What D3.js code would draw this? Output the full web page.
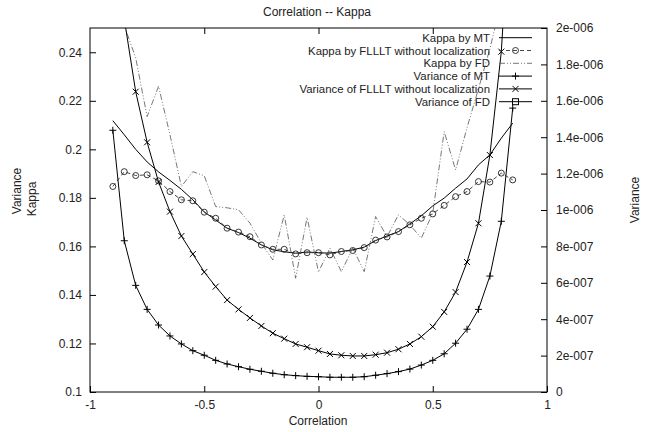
<!DOCTYPE html>
<html>
<head>
<meta charset="utf-8">
<script src="https://cdn.jsdelivr.net/npm/d3@7"></script>
<style>
  html, body { margin: 0; padding: 0; background: #fff; }
  svg { display: block; font-family: "Liberation Sans", Arial, Helvetica, sans-serif; }
</style>
</head>
<body>
<svg id="chart" width="649" height="432"></svg>
<script>
// ---- data ----
const correlation = [-0.9,-0.85,-0.8,-0.75,-0.7,-0.65,-0.6,-0.55,-0.5,-0.45,-0.4,-0.35,-0.3,-0.25,-0.2,-0.15,-0.1,-0.05,0,
  0.05,0.1,0.15,0.2,0.25,0.3,0.35,0.4,0.45,0.5,0.55,0.6,0.65,0.7,0.75,0.8,0.85];

const kappaMT = [0.2118,0.2060,0.2000,0.1948,0.1907,0.1872,0.1835,0.1792,0.1742,0.1709,0.1675,0.1657,0.1634,0.1606,0.1586,0.1578,0.1572,0.1577,0.1574,
  0.1572,0.1579,0.1586,0.1597,0.1624,0.1643,0.1661,0.1693,0.1726,0.1767,0.1799,0.1840,0.1878,0.1936,0.1977,0.2046,0.2108];

const kappaFLLLT = [0.1847,0.1908,0.1892,0.1895,0.1870,0.1826,0.1792,0.1788,0.1741,0.1716,0.1675,0.1659,0.1640,0.1606,0.1588,0.1588,0.1569,0.1574,0.1574,
  0.1565,0.1579,0.1583,0.1595,0.1626,0.1639,0.1661,0.1689,0.1716,0.1734,0.1769,0.1805,0.1826,0.1867,0.1865,0.1902,0.1874];

const kappaFD = [0.270,0.251,0.2377,0.2135,0.2260,0.2060,0.1847,0.1908,0.1891,0.1764,0.1759,0.1751,0.1696,0.1613,0.1544,0.1730,0.1469,0.1720,0.1494,
  0.1593,0.1496,0.1593,0.1496,0.1723,0.1640,0.1730,0.1689,0.1634,0.1737,0.2073,0.1915,0.2089,0.2249,0.2414,0.261,0.275];

const varMT = [1.438e-6,0.831e-6,0.586e-6,0.454e-6,0.368e-6,0.308e-6,0.264e-6,0.227e-6,0.202e-6,0.174e-6,0.154e-6,0.139e-6,0.125e-6,0.114e-6,0.103e-6,0.095e-6,0.090e-6,0.086e-6,0.084e-6,
  0.081e-6,0.081e-6,0.081e-6,0.084e-6,0.092e-6,0.101e-6,0.112e-6,0.126e-6,0.148e-6,0.174e-6,0.210e-6,0.268e-6,0.345e-6,0.454e-6,0.637e-6,0.938e-6,1.56e-6];

const varFLLLT = [2.9e-6,2.05e-6,1.650e-6,1.372e-6,1.154e-6,0.991e-6,0.857e-6,0.758e-6,0.659e-6,0.579e-6,0.505e-6,0.454e-6,0.407e-6,0.363e-6,0.323e-6,0.293e-6,0.264e-6,0.246e-6,0.227e-6,
  0.209e-6,0.202e-6,0.198e-6,0.198e-6,0.205e-6,0.216e-6,0.235e-6,0.264e-6,0.304e-6,0.359e-6,0.440e-6,0.549e-6,0.714e-6,0.927e-6,1.302e-6,1.87e-6,2.9e-6];

// Variance of FD: no point of this series is visible inside the plotted range
const varFD = [];

const xTicks = [-1,-0.5,0,0.5,1];
const xTickLabels = ["-1","-0.5","0","0.5","1"];
const yLeftTicks = [0.1,0.12,0.14,0.16,0.18,0.2,0.22,0.24];
const yLeftTickLabels = ["0.1","0.12","0.14","0.16","0.18","0.2","0.22","0.24"];
const yRightTicks = [0,2e-7,4e-7,6e-7,8e-7,1e-6,1.2e-6,1.4e-6,1.6e-6,1.8e-6,2e-6];
const yRightTickLabels = ["0","2e-007","4e-007","6e-007","8e-007","1e-006","1.2e-006","1.4e-006","1.6e-006","1.8e-006","2e-006"];

const legendLabels = ["Kappa by MT","Kappa by FLLLT without localization","Kappa by FD",
  "Variance of MT","Variance of FLLLT without localization","Variance of FD"];

// ---- layout ----
const L = 90, R = 547, T = 28, B = 392;
const svg = d3.select("#chart");
const x = d3.scaleLinear().domain([-1,1]).range([L,R]);
const yL = d3.scaleLinear().domain([0.1,0.25]).range([B,T]);
const yR = d3.scaleLinear().domain([0,2e-6]).range([B,T]);

svg.append("defs").append("clipPath").attr("id","plotclip")
  .append("rect").attr("x",L).attr("y",T).attr("width",R-L).attr("height",B-T);

const fs = 12;
const legendFs = 11.4;
const txtColor = "#222";

// axes
function styleAxis(g){
  g.select(".domain").remove();
  g.selectAll(".tick line").attr("stroke","#000").attr("stroke-width",1);
  g.selectAll(".tick text").attr("fill",txtColor).attr("font-size",fs).attr("font-family","Liberation Sans, Arial, sans-serif");
}
svg.append("g").attr("transform",`translate(0,${B})`)
  .call(d3.axisBottom(x).tickValues(xTicks).tickSize(-6).tickPadding(8)
    .tickFormat((d,i)=>xTickLabels[i]))
  .call(styleAxis);
svg.append("g").attr("transform",`translate(0,${T})`)
  .call(d3.axisTop(x).tickValues(xTicks.slice(1,-1)).tickSize(-6).tickFormat(""))
  .call(styleAxis);
svg.append("g").attr("transform",`translate(${L},0)`)
  .call(d3.axisLeft(yL).tickValues(yLeftTicks).tickSize(-6).tickPadding(8)
    .tickFormat((d,i)=>yLeftTickLabels[i]))
  .call(styleAxis);
svg.append("g").attr("transform",`translate(${R},0)`)
  .call(d3.axisRight(yR).tickValues(yRightTicks).tickSize(-6).tickPadding(9)
    .tickFormat((d,i)=>yRightTickLabels[i]))
  .call(styleAxis);

// border
svg.append("rect").attr("x",L).attr("y",T).attr("width",R-L).attr("height",B-T)
  .attr("fill","none").attr("stroke","#000").attr("stroke-width",1);

// titles
svg.append("text").attr("x",317).attr("y",12).attr("text-anchor","middle")
  .attr("dominant-baseline","central").attr("font-size",fs).attr("fill",txtColor).text("Correlation -- Kappa");
svg.append("text").attr("x",318).attr("y",421).attr("text-anchor","middle")
  .attr("dominant-baseline","central").attr("font-size",fs).attr("fill",txtColor).text("Correlation");
svg.append("text").attr("transform","translate(17,191) rotate(-90)").attr("text-anchor","middle")
  .attr("dominant-baseline","central").attr("font-size",fs).attr("fill",txtColor).text("Variance");
svg.append("text").attr("transform","translate(32,199) rotate(-90)").attr("text-anchor","middle")
  .attr("dominant-baseline","central").attr("font-size",fs).attr("fill",txtColor).text("Kappa");
svg.append("text").attr("transform","translate(635,200) rotate(-90)").attr("text-anchor","middle")
  .attr("dominant-baseline","central").attr("font-size",fs).attr("fill",txtColor).text("Variance");

// markers
const plusPath = "M-3.5,0H3.5M0,-3.5V3.5";
const crossPath = "M-3,-3L3,3M-3,3L3,-3";
function drawMarker(g, type, cx, cy){
  if (type === "plus") g.append("path").attr("d",plusPath).attr("transform",`translate(${cx},${cy})`).attr("stroke","#000").attr("fill","none").attr("stroke-width",1);
  else if (type === "cross") g.append("path").attr("d",crossPath).attr("transform",`translate(${cx},${cy})`).attr("stroke","#000").attr("fill","none").attr("stroke-width",1);
  else if (type === "circle") g.append("circle").attr("cx",cx).attr("cy",cy).attr("r",3).attr("stroke","#222").attr("fill","none").attr("stroke-width",0.9);
  else if (type === "square") g.append("rect").attr("x",cx-3).attr("y",cy-3).attr("width",6).attr("height",6).attr("stroke","#000").attr("fill","none").attr("stroke-width",1);
}

const series = [
  {vals: kappaMT,   scale: yL, stroke:"#000", width:1,   dash:null,            marker:null},
  {vals: kappaFLLLT,scale: yL, stroke:"#333", width:0.9, dash:"4,3",           marker:"circle"},
  {vals: kappaFD,   scale: yL, stroke:"#555", width:0.8, dash:"6,2,1,2,1,2",   marker:null},
  {vals: varMT,     scale: yR, stroke:"#000", width:1,   dash:null,            marker:"plus"},
  {vals: varFLLLT,  scale: yR, stroke:"#000", width:1,   dash:null,            marker:"cross"},
  {vals: varFD,     scale: yR, stroke:"#000", width:1,   dash:null,            marker:"square"}
];

const plot = svg.append("g").attr("clip-path","url(#plotclip)");
series.forEach(s => {
  const pts = s.vals.map((v,i)=>[correlation[i], v]);
  if (pts.length === 0) return;
  const line = d3.line().x(d=>x(d[0])).y(d=>s.scale(d[1]));
  plot.append("path").datum(pts).attr("d",line).attr("fill","none")
    .attr("stroke",s.stroke).attr("stroke-width",s.width)
    .attr("stroke-dasharray",s.dash);
  if (s.marker) {
    const [lo,hi] = s.scale.domain();
    pts.forEach(p => { if (p[1] >= lo && p[1] <= hi) drawMarker(plot, s.marker, x(p[0]), s.scale(p[1])); });
  }
});

// legend
const lg = svg.append("g");
legendLabels.forEach((lab,i) => {
  const yy = 37.7 + i*12.8;
  lg.append("text").attr("x",490).attr("y",yy).attr("text-anchor","end")
    .attr("dominant-baseline","central").attr("font-size",legendFs).attr("fill",txtColor).text(lab);
  const s = series[i];
  lg.append("line").attr("x1",499).attr("x2",532).attr("y1",yy).attr("y2",yy)
    .attr("stroke",s.stroke).attr("stroke-width",s.width).attr("stroke-dasharray",s.dash);
  if (s.marker) drawMarker(lg, s.marker, 515.5, yy);
});
</script>
</body>
</html>
